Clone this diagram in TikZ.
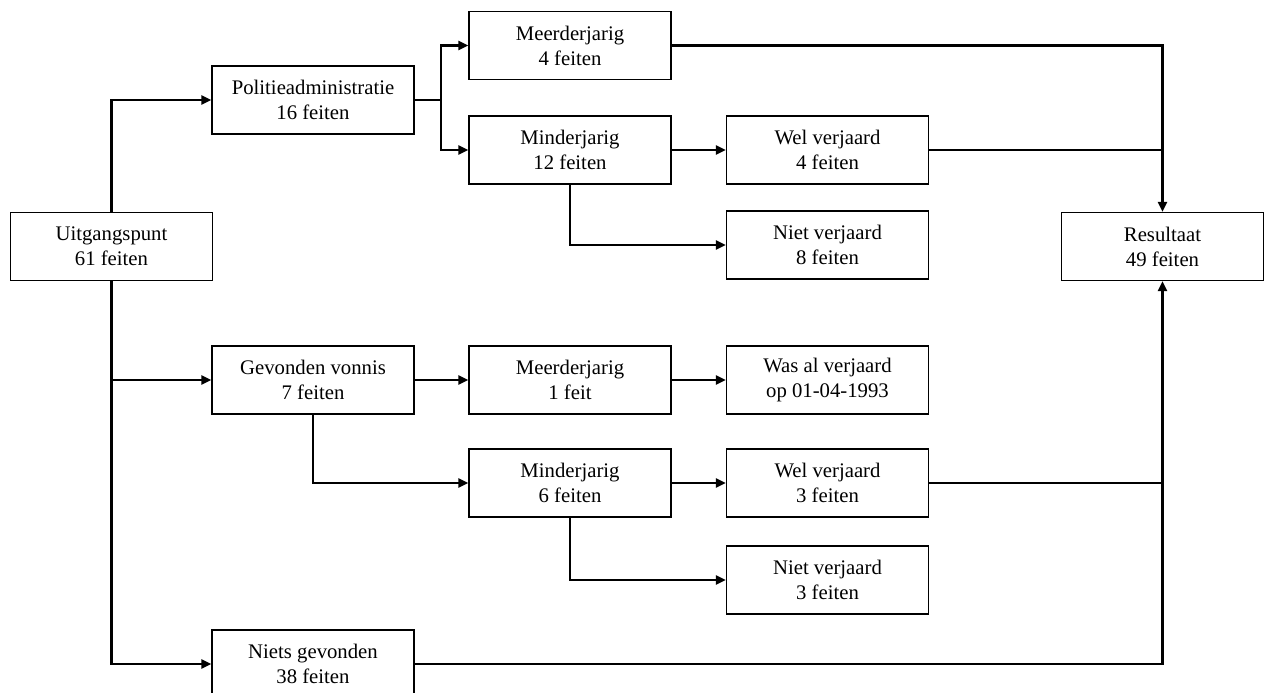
\documentclass[tikz,border=0pt]{standalone}
\usepackage{fontspec}
\setmainfont{Liberation Serif}
\usetikzlibrary{arrows.meta}

\begin{document}
\begin{tikzpicture}
\tikzstyle{block} = [rectangle, draw=black, line width=0.8pt, fill=white,
minimum width=4.04cm, minimum height=1.36cm, inner sep=0pt, align=center,
font=\fontsize{11.8}{14.2}\selectfont]
\tikzstyle{line} = [draw, line width=1.4pt, -{Triangle[length=2mm,width=1.8mm]}]
\tikzstyle{plainline} = [draw, line width=1.4pt]
\useasboundingbox (0,0) rectangle (25.28,-13.86);
% column 1
\node [block] (start) at (2.23,-4.93) {Uitgangspunt\\61 feiten};
% column 2
\node [block] (politie) at (6.26,-2.0) {Politieadministratie\\16 feiten};
\node [block] (vonnis) at (6.26,-7.6) {Gevonden vonnis\\7 feiten};
\node [block] (niets) at (6.26,-13.28) {Niets gevonden\\38 feiten};
% column 3
\node [block] (meer1) at (11.40,-0.91) {Meerderjarig\\4 feiten};
\node [block] (minder1) at (11.40,-3.0) {Minderjarig\\12 feiten};
\node [block] (meer2) at (11.40,-7.6) {Meerderjarig\\1 feit};
\node [block] (minder2) at (11.40,-9.66) {Minderjarig\\6 feiten};
% column 4
\node [block] (wel1) at (16.55,-3.0) {Wel verjaard\\4 feiten};
\node [block] (niet1) at (16.55,-4.9) {Niet verjaard\\8 feiten};
\node [block] (was) at (16.55,-7.6) {Was al verjaard\\op 01-04-1993};
\node [block] (wel2) at (16.55,-9.66) {Wel verjaard\\3 feiten};
\node [block] (niet2) at (16.55,-11.6) {Niet verjaard\\3 feiten};
% column 5
\node [block] (result) at (23.25,-4.93) {Resultaat\\49 feiten};
\coordinate (split) at (8.82,-2.0);

\path [line] (start.north) |- (politie.west);
\path [line] (start.south) |- (niets.west);
\path [line] (start.south |- vonnis.west) -- (vonnis.west);
\path [plainline] (politie.east) -- (split);
\path [line] (split) |- (meer1.west);
\path [line] (split) |- (minder1.west);
\path [line] (minder1.east) -- (wel1.west);
\path [line] (minder1.south) |- (niet1.west);
\path [line] (vonnis.east) -- (meer2.west);
\path [line] (meer2.east) -- (was.west);
\path [line] (vonnis.south) |- (minder2.west);
\path [line] (minder2.east) -- (wel2.west);
\path [line] (minder2.south) |- (niet2.west);
\path [line] (meer1.east) -| (result.north);
\path [plainline] (wel1.east) -- (wel1.east -| result.north);
\path [line] (niets.east) -| (result.south);
\path [plainline] (wel2.east) -- (wel2.east -| result.south);
\end{tikzpicture}
\end{document}
